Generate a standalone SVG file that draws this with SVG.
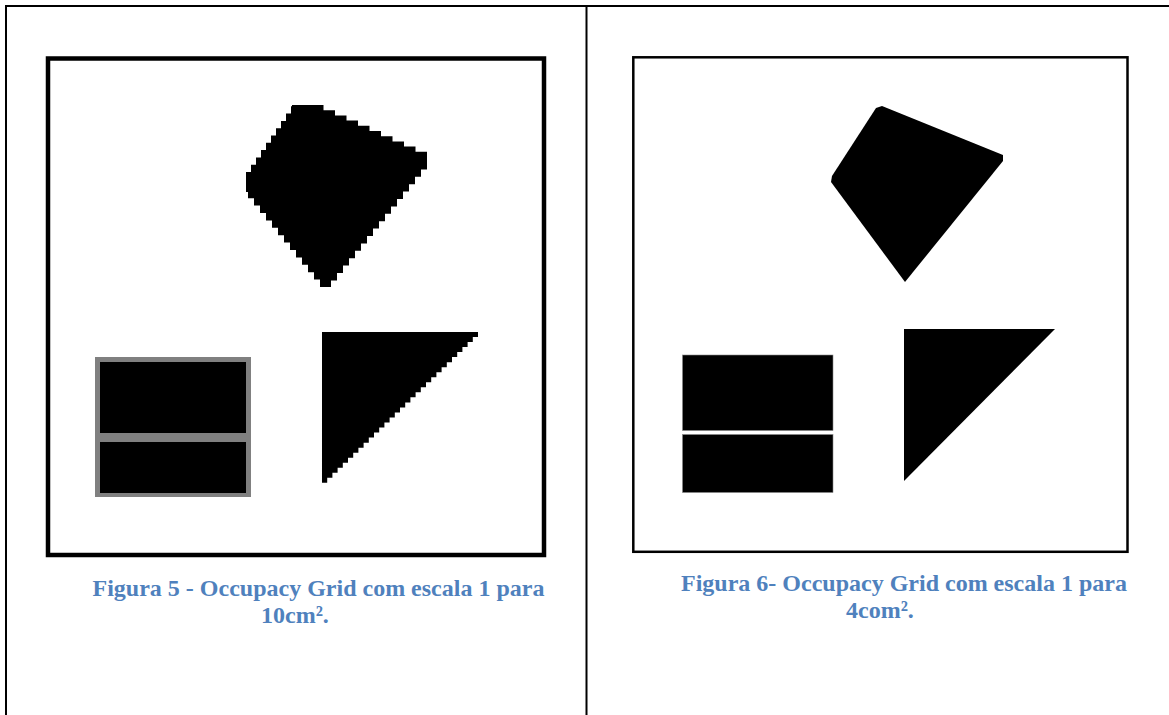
<svg xmlns="http://www.w3.org/2000/svg" width="1169" height="715" viewBox="0 0 1169 715">
  <style>
    .rule { stroke: #000; stroke-width: 2; fill: none; }
    .cell { fill: #000; }
    .caption { font-family: "Liberation Serif", "Times New Roman", serif; font-weight: bold; font-size: 24px; fill: #4F81BD; }
  </style>
  <rect width="1169" height="715" fill="#fff"/>

  <!-- table rules -->
  <g id="table">
    <line class="rule" x1="6" y1="6" x2="1169" y2="6"/>
    <line class="rule" x1="6" y1="5" x2="6" y2="715"/>
    <line class="rule" x1="586.5" y1="6" x2="586.5" y2="715"/>
  </g>

  <!-- left panel: coarse grid (10 cm cells) -->
  <g id="grid-coarse">
    <rect x="48" y="58.5" width="496" height="496.5" fill="none" stroke="#000" stroke-width="4.5"/>
    <!-- rotated square, rasterised -->
    <path class="cell" d="M292,105 H312
      h11.5v5.2 h11.5v5.2 h11.5v5.2 h11.5v5.2 h11.5v5.2 h11.5v5.2 h11.5v5.2 h11.5v5.2 h11.5v5.2 h11.5v5.2 V162
      v7.4h-6 v7.4h-6 v7.4h-6 v7.4h-6 v7.4h-6 v7.4h-6 v7.4h-6 v7.4h-6 v7.4h-6 v7.4h-6 v7.4h-6 v7.4h-6 v7.4h-6 v7.4h-6 v7.4h-6 v7.4h-6 V287
      H320
      v-7.4h-6 v-7.4h-6 v-7.4h-6 v-7.4h-6 v-7.4h-6 v-7.4h-6 v-7.4h-6 v-7.4h-6 v-7.4h-6 v-7.4h-6 v-7.4h-6 v-7.4h-6
      V192 H246 V172
      h5v-7.3 h5v-7.3 h5v-7.3 h5v-7.3 h5v-7.3 h5v-7.3 h5v-7.3 h5v-7.3 h5v-7.3 H292 Z"/>
    <!-- right-angle triangle, rasterised -->
    <path class="cell" d="M322,332 H478 V337
      h-5.2v5.03 h-5.2v5.03 h-5.2v5.03 h-5.2v5.03 h-5.2v5.03 h-5.2v5.03 h-5.2v5.03 h-5.2v5.03 h-5.2v5.03 h-5.2v5.03
      h-5.2v5.03 h-5.2v5.03 h-5.2v5.03 h-5.2v5.03 h-5.2v5.03 h-5.2v5.03 h-5.2v5.03 h-5.2v5.03 h-5.2v5.03 h-5.2v5.03
      h-5.2v5.03 h-5.2v5.03 h-5.2v5.03 h-5.2v5.03 h-5.2v5.03 h-5.2v5.03 h-5.2v5.03 h-5.2v5.03 h-5.2v5.03 h-5.2v5.03 Z"/>
    <!-- two boxes with grey margin cells -->
    <rect x="95" y="357" width="156" height="140" fill="#808080"/>
    <rect class="cell" x="100" y="362" width="146" height="71"/>
    <rect class="cell" x="100" y="442" width="146" height="51"/>
  </g>

  <!-- right panel: fine grid (4 cm cells) -->
  <g id="grid-fine">
    <rect x="633.3" y="57.3" width="494.2" height="494.5" fill="none" stroke="#000" stroke-width="2.5"/>
    <polygon class="cell" points="876,108 882,106 1003,155 1003,161 905,282 831,182 832,176"/>
    <polygon class="cell" points="904,329 1055,329 904,481"/>
    <rect class="cell" x="682.5" y="355" width="150.5" height="75.5" stroke="#888" stroke-width="0.6"/>
    <rect class="cell" x="682.5" y="434.5" width="150.5" height="58" stroke="#888" stroke-width="0.6"/>
  </g>

  <!-- captions -->
  <g id="caption-5">
    <text class="caption" x="92.5" y="596">Figura 5 - Occupacy Grid com escala 1 para</text>
    <text class="caption" x="261" y="623">10cm².</text>
  </g>
  <g id="caption-6">
    <text class="caption" x="681" y="591">Figura 6- Occupacy Grid com escala 1 para</text>
    <text class="caption" x="846" y="618">4com².</text>
  </g>
</svg>
